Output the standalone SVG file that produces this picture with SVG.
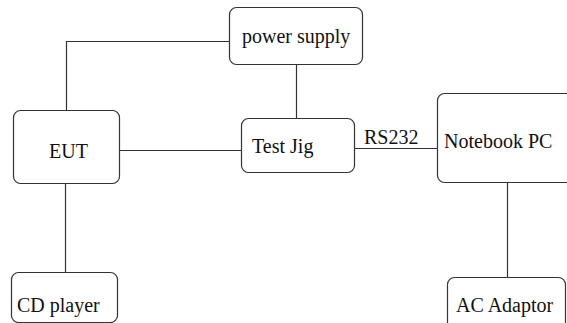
<svg xmlns="http://www.w3.org/2000/svg" width="567" height="323" viewBox="0 0 567 323">
<style>
.box{fill:#ffffff;stroke:#333333;stroke-width:1.2}
.wire{fill:none;stroke:#333333;stroke-width:1.2}
.t{font-family:'Liberation Serif','DejaVu Serif',serif;font-size:20px;fill:#111111}
</style>
<rect width="567" height="323" fill="#ffffff"/>
<g id="connectors">
<polyline class="wire" points="229,41.5 66.5,41.5 66.5,110"/>
<line class="wire" x1="296.5" y1="64" x2="296.5" y2="118"/>
<line class="wire" x1="119" y1="150.5" x2="241" y2="150.5"/>
<line class="wire" x1="354" y1="148.5" x2="437" y2="148.5"/>
<line class="wire" x1="507.5" y1="182" x2="507.5" y2="277"/>
<line class="wire" x1="65.5" y1="183" x2="65.5" y2="272"/>
</g>
<g id="power-supply">
<rect class="box" x="229.5" y="7.5" width="133" height="57" rx="7"/>
<text class="t" font-family="Liberation Serif, serif" x="242" y="43">power supply</text>
</g>
<g id="test-jig">
<rect class="box" x="241.5" y="118.5" width="113" height="54" rx="7"/>
<text class="t" font-family="Liberation Serif, serif" x="252" y="153">Test Jig</text>
</g>
<g id="eut">
<rect class="box" x="13.5" y="110.5" width="106" height="73" rx="7"/>
<text class="t" font-family="Liberation Serif, serif" x="49" y="158">EUT</text>
</g>
<g id="notebook-pc">
<rect class="box" x="437.5" y="93.5" width="140" height="89" rx="7"/>
<text class="t" font-family="Liberation Serif, serif" x="444" y="148">Notebook PC</text>
</g>
<g id="ac-adaptor">
<rect class="box" x="447.5" y="277.5" width="118" height="60" rx="7"/>
<text class="t" font-family="Liberation Serif, serif" x="456" y="312">AC Adaptor</text>
</g>
<g id="cd-player">
<rect class="box" x="11.5" y="272.5" width="106" height="50" rx="7"/>
<text class="t" font-family="Liberation Serif, serif" x="17" y="312">CD player</text>
</g>
<g id="label-rs232">
<text class="t" font-family="Liberation Serif, serif" x="364" y="144">RS232</text>
</g>
</svg>
